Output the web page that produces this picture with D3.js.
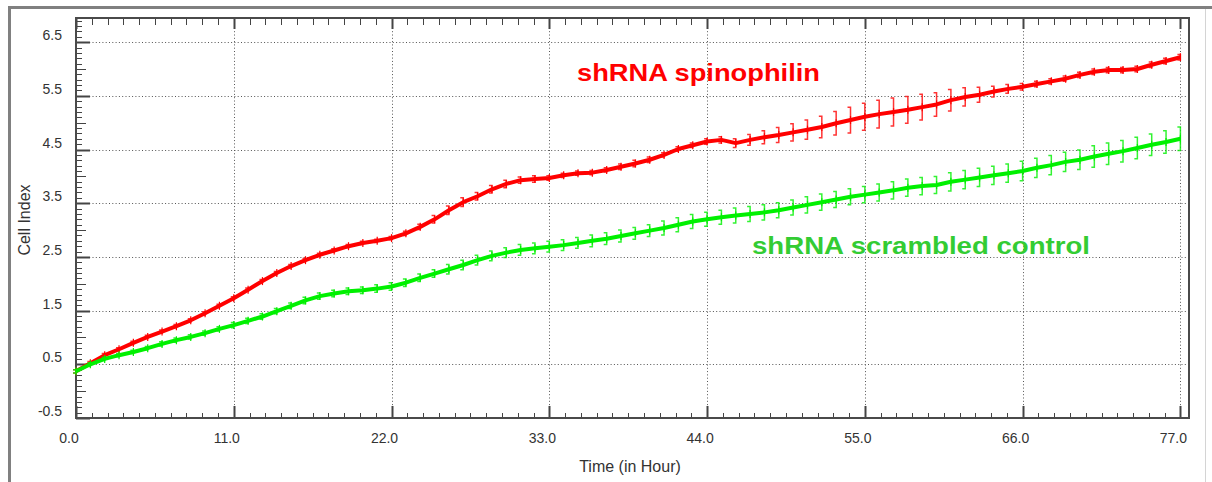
<!DOCTYPE html>
<html>
<head>
<meta charset="utf-8">
<script src="https://cdn.jsdelivr.net/npm/d3@7"></script>
<style>
  body { margin: 0; background: #fff; }
  svg { display: block; font-family: "Liberation Sans", Arial, sans-serif; }
</style>
</head>
<body>
<div id="chart"></div>
<script>
const horas = [0,1,2,3,4,5,6,7,8,9,10,11,12,13,14,15,16,17,18,19,20,21,22,23,24,25,26,27,28,29,30,31,32,33,34,35,36,37,38,39,40,41,42,43,44,45,46,47,48,49,50,51,52,53,54,55,56,57,58,59,60,61,62,63,64,65,66,67,68,69,70,71,72,73,74,75,76,77];

const spinophilin = [0.37,0.52,0.67,0.78,0.90,1.01,1.11,1.21,1.32,1.45,1.59,1.73,1.89,2.05,2.20,2.33,2.44,2.54,2.62,2.70,
  2.76,2.80,2.85,2.94,3.06,3.20,3.37,3.52,3.63,3.76,3.86,3.93,3.95,3.97,4.02,4.06,4.07,4.12,4.18,4.24,
  4.31,4.40,4.51,4.58,4.65,4.68,4.62,4.68,4.73,4.77,4.82,4.87,4.92,4.99,5.05,5.11,5.16,5.20,5.24,5.29,
  5.34,5.42,5.48,5.52,5.58,5.63,5.67,5.72,5.77,5.82,5.89,5.95,5.98,5.98,6.00,6.08,6.15,6.22];
const spinophilinErr = [0.03,0.03,0.03,0.03,0.03,0.03,0.03,0.03,0.03,0.03,0.03,0.03,0.03,0.03,0.03,0.03,0.03,0.03,0.03,0.03,
  0.03,0.03,0.03,0.04,0.05,0.07,0.08,0.08,0.07,0.07,0.07,0.06,0.06,0.04,0.04,0.04,0.04,0.04,0.05,0.06,
  0.05,0.04,0.04,0.04,0.05,0.06,0.08,0.10,0.12,0.14,0.16,0.18,0.20,0.22,0.24,0.25,0.26,0.26,0.25,0.24,
  0.22,0.20,0.17,0.14,0.10,0.08,0.06,0.05,0.05,0.05,0.05,0.05,0.05,0.05,0.05,0.05,0.05,0.05];

const scrambled = [0.37,0.50,0.60,0.67,0.73,0.80,0.88,0.95,1.01,1.08,1.16,1.23,1.31,1.39,1.49,1.59,1.69,1.77,1.82,1.86,
  1.88,1.91,1.95,2.02,2.11,2.19,2.27,2.35,2.44,2.52,2.58,2.63,2.66,2.69,2.72,2.76,2.80,2.84,2.89,2.94,
  2.99,3.04,3.10,3.16,3.20,3.24,3.27,3.30,3.33,3.37,3.42,3.47,3.52,3.57,3.62,3.66,3.70,3.74,3.79,3.82,
  3.84,3.90,3.94,3.98,4.02,4.06,4.10,4.16,4.21,4.27,4.31,4.37,4.42,4.47,4.53,4.59,4.64,4.70];
const scrambledErr = [0.03,0.03,0.03,0.03,0.03,0.03,0.04,0.04,0.04,0.04,0.04,0.05,0.05,0.05,0.05,0.05,0.06,0.06,0.06,0.06,
  0.06,0.07,0.07,0.07,0.07,0.07,0.09,0.09,0.09,0.09,0.09,0.10,0.10,0.10,0.10,0.10,0.11,0.11,0.11,0.11,
  0.11,0.13,0.13,0.13,0.13,0.13,0.14,0.14,0.14,0.14,0.14,0.15,0.15,0.15,0.15,0.15,0.16,0.16,0.16,0.16,
  0.16,0.17,0.17,0.17,0.17,0.17,0.18,0.18,0.18,0.18,0.18,0.20,0.20,0.20,0.20,0.20,0.21,0.22];

const xTicks = [0, 11, 22, 33, 44, 55, 66, 77];
const yTicks = [-0.5, 0.5, 1.5, 2.5, 3.5, 4.5, 5.5, 6.5];

const series = [
  { nombre: "shRNA spinophilin", valores: spinophilin, error: spinophilinErr, color: "#ff0000" },
  { nombre: "shRNA scrambled control", valores: scrambled, error: scrambledErr, color: "#00f000" },
];

// tamaño del SVG
const width = 1212;
const height = 482;
const plot = { left: 76, right: 1189, top: 18, bottom: 418 };

const svg = d3.select("#chart").append("svg")
  .attr("width", width)
  .attr("height", height);

// marco exterior
svg.append("rect").attr("x", 0).attr("y", 0).attr("width", width).attr("height", height).attr("fill", "#fff");
svg.append("line").attr("x1", 8).attr("x2", width).attr("y1", 7.5).attr("y2", 7.5)
  .attr("stroke", "#808080").attr("stroke-width", 3);
svg.append("line").attr("x1", 9.5).attr("x2", 9.5).attr("y1", 6).attr("y2", height)
  .attr("stroke", "#808080").attr("stroke-width", 3);
svg.append("line").attr("x1", 1205.5).attr("x2", 1205.5).attr("y1", 9).attr("y2", height)
  .attr("stroke", "#d4d4d4").attr("stroke-width", 1);

const x = d3.scaleLinear().domain([0, 77.6]).range([plot.left, plot.right]);
const y = d3.scaleLinear().domain([-0.5, 6.95]).range([plot.bottom, plot.top]);

// rejilla punteada
const grid = svg.append("g")
  .attr("stroke", "#555")
  .attr("stroke-width", 1)
  .attr("stroke-dasharray", "1,2.3");
grid.selectAll("line.h")
  .data(yTicks.filter((d) => d > -0.5))
  .join("line")
  .attr("x1", plot.left).attr("x2", plot.right)
  .attr("y1", (d) => Math.round(y(d)) + 0.5).attr("y2", (d) => Math.round(y(d)) + 0.5);
grid.selectAll("line.v")
  .data(xTicks.filter((d) => d > 0))
  .join("line")
  .attr("x1", (d) => Math.round(x(d)) + 0.5).attr("x2", (d) => Math.round(x(d)) + 0.5)
  .attr("y1", plot.top).attr("y2", plot.bottom);

// ticks del eje y (hacia dentro)
const yMinor = d3.range(-5, 70).map((i) => i / 10);
svg.append("g")
  .attr("stroke", "#444")
  .attr("stroke-width", 1)
  .selectAll("line")
  .data(yMinor)
  .join("line")
  .attr("x1", plot.left)
  .attr("x2", (d, i) => plot.left + (i % 10 === 0 ? 14 : i % 5 === 0 ? 10 : 6))
  .attr("y1", (d) => Math.round(y(d)) + 0.5)
  .attr("y2", (d) => Math.round(y(d)) + 0.5)
  .attr("stroke-width", (d, i) => (i % 10 === 0 ? 2 : 1));

// ticks del eje x, abajo y arriba
const xMinor = d3.range(0, 71).map((i) => i * 1.1);
const ejeX = svg.append("g").attr("stroke", "#444");
ejeX.selectAll("line.abajo")
  .data(xMinor)
  .join("line")
  .attr("x1", (d) => Math.round(x(d)) + 0.5)
  .attr("x2", (d) => Math.round(x(d)) + 0.5)
  .attr("y1", plot.bottom)
  .attr("y2", (d, i) => plot.bottom - (i % 10 === 0 ? 12 : 5))
  .attr("stroke-width", (d, i) => (i % 10 === 0 ? 2 : 1));
ejeX.selectAll("line.arriba")
  .data(xMinor)
  .join("line")
  .attr("x1", (d) => Math.round(x(d)) + 0.5)
  .attr("x2", (d) => Math.round(x(d)) + 0.5)
  .attr("y1", plot.top)
  .attr("y2", (d, i) => plot.top + (i % 10 === 0 ? 11 : 7))
  .attr("stroke-width", (d, i) => (i % 10 === 0 ? 2 : 1));

// caja del grafico
svg.append("rect")
  .attr("x", plot.left).attr("y", plot.top)
  .attr("width", plot.right - plot.left).attr("height", plot.bottom - plot.top)
  .attr("fill", "none").attr("stroke", "#4a4a4a").attr("stroke-width", 2);

// etiquetas de los ejes
svg.append("g")
  .attr("font-size", 14).attr("fill", "#333").attr("text-anchor", "end")
  .selectAll("text")
  .data(yTicks)
  .join("text")
  .attr("x", 62)
  .attr("y", (d) => y(d) - 2)
  .text((d) => d.toFixed(1));
svg.append("g")
  .attr("font-size", 14).attr("fill", "#333").attr("text-anchor", "middle")
  .selectAll("text")
  .data(xTicks)
  .join("text")
  .attr("x", (d) => x(d) - 7)
  .attr("y", 443)
  .text((d) => d.toFixed(1));

svg.append("text")
  .attr("x", 630).attr("y", 472)
  .attr("text-anchor", "middle").attr("font-size", 16).attr("fill", "#333")
  .text("Time (in Hour)");
svg.append("text")
  .attr("transform", "translate(30,220) rotate(-90)")
  .attr("text-anchor", "middle").attr("font-size", 16).attr("fill", "#333")
  .text("Cell Index");

// series con barras de error
const linea = d3.line()
  .x((d) => x(d.t))
  .y((d) => y(d.v));

series.forEach((s) => {
  const puntos = horas.map((t, i) => ({ t: t, v: s.valores[i], e: s.error[i] }));
  const g = svg.append("g");
  g.append("g")
    .attr("stroke", s.color)
    .attr("stroke-opacity", 0.8)
    .attr("stroke-width", 1.5)
    .attr("fill", "none")
    .selectAll("path")
    .data(puntos)
    .join("path")
    .attr("d", (d) => {
      const px = x(d.t), y1 = y(d.v + d.e), y2 = y(d.v - d.e);
      return `M${px - 3},${y1}H${px}V${y2}H${px - 3}`;
    });
  g.append("path")
    .datum(puntos)
    .attr("fill", "none")
    .attr("stroke", s.color)
    .attr("stroke-width", 4)
    .attr("stroke-linejoin", "round")
    .attr("d", linea);
  // marcas pequeñas en cada punto
  g.append("g")
    .attr("stroke", s.color)
    .attr("stroke-width", 1.2)
    .selectAll("line")
    .data(puntos)
    .join("line")
    .attr("x1", (d) => x(d.t)).attr("x2", (d) => x(d.t))
    .attr("y1", (d) => y(d.v) - 4).attr("y2", (d) => y(d.v) + 4);
});

// rotulos de las series
svg.append("text")
  .attr("x", 577).attr("y", 81)
  .attr("font-size", 24).attr("font-weight", "bold").attr("fill", "#ff0000")
  .attr("textLength", 243).attr("lengthAdjust", "spacingAndGlyphs")
  .text(series[0].nombre);
svg.append("text")
  .attr("x", 752).attr("y", 254)
  .attr("font-size", 24).attr("font-weight", "bold").attr("fill", "#33cc33")
  .attr("textLength", 338).attr("lengthAdjust", "spacingAndGlyphs")
  .text(series[1].nombre);
</script>
</body>
</html>
